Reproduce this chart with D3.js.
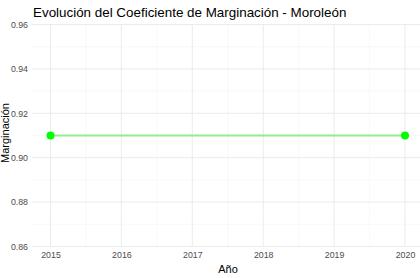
<!DOCTYPE html>
<html><head><meta charset="utf-8">
<script src="https://cdn.jsdelivr.net/npm/d3@7"></script>
<style>body{margin:0;background:#fff}svg{display:block}text{font-family:"Liberation Sans",Arial,sans-serif}</style>
</head><body><svg id="c" width="420" height="278"></svg>
<script>
const years = [2015, 2020];
const values = [0.91, 0.91];
const xTicks = [2015, 2016, 2017, 2018, 2019, 2020];
const yTicks = [0.86, 0.88, 0.90, 0.92, 0.94, 0.96];
const xMinor = [2015.5, 2016.5, 2017.5, 2018.5, 2019.5];
const yMinor = [0.87, 0.89, 0.91, 0.93, 0.95];

(function () {
const svg = d3.select("#c");
const x = d3.scaleLinear().domain([2015, 2020]).range([50.5, 405]);
const y = d3.scaleLinear().domain([0.86, 0.96]).range([246.5, 24.5]);
const pLeft = 32, pRight = 420, pTop = 24.5, pBottom = 246.5;

const g = svg.append("g");
g.selectAll(".ym").data(yMinor).join("line").attr("x1", pLeft).attr("x2", pRight)
  .attr("y1", d => y(d)).attr("y2", d => y(d)).attr("stroke", "#f3f3f3").attr("stroke-width", 0.6);
g.selectAll(".xm").data(xMinor).join("line").attr("y1", pTop).attr("y2", pBottom)
  .attr("x1", d => x(d)).attr("x2", d => x(d)).attr("stroke", "#f3f3f3").attr("stroke-width", 0.6);
g.selectAll(".yM").data(yTicks).join("line").attr("x1", pLeft).attr("x2", pRight)
  .attr("y1", d => y(d)).attr("y2", d => y(d)).attr("stroke", "#ebebeb").attr("stroke-width", 1);
g.selectAll(".xM").data(xTicks).join("line").attr("y1", pTop).attr("y2", pBottom)
  .attr("x1", d => x(d)).attr("x2", d => x(d)).attr("stroke", "#ebebeb").attr("stroke-width", 1);

const yAxis = svg.append("g").attr("transform", `translate(${pLeft},0)`)
  .call(d3.axisLeft(y).tickValues(yTicks).tickFormat(d3.format(".2f")).tickSize(0).tickPadding(4));
yAxis.select(".domain").remove();
yAxis.selectAll("text").attr("fill", "#4d4d4d").style("font-size", "8.8px");

const xAxis = svg.append("g").attr("transform", `translate(0,${pBottom})`)
  .call(d3.axisBottom(x).tickValues(xTicks).tickFormat(d3.format("d")).tickSize(0).tickPadding(5));
xAxis.select(".domain").remove();
xAxis.selectAll("text").attr("fill", "#4d4d4d").style("font-size", "8.8px");

const pts = years.map((yr, i) => [yr, values[i]]);
svg.append("path").datum(pts)
  .attr("d", d3.line().x(d => x(d[0])).y(d => y(d[1])))
  .attr("fill", "none").attr("stroke", "#90ee90").attr("stroke-width", 2);
svg.selectAll(".pt").data(pts).join("circle")
  .attr("cx", d => x(d[0])).attr("cy", d => y(d[1])).attr("r", 4).attr("fill", "#00ff00");

svg.append("text").attr("x", 33).attr("y", 17).attr("font-size", "13.4px").attr("fill", "#000")
  .text("Evolución del Coeficiente de Marginación - Moroleón");
svg.append("text").attr("x", (pLeft + pRight) / 2 + 2).attr("y", 273).attr("text-anchor", "middle")
  .attr("font-size", "11px").attr("fill", "#000").text("Año");
svg.append("text").attr("transform", "translate(9,133) rotate(-90)").attr("text-anchor", "middle")
  .attr("font-size", "11px").attr("fill", "#000").text("Marginación");
})();
</script></body></html>
